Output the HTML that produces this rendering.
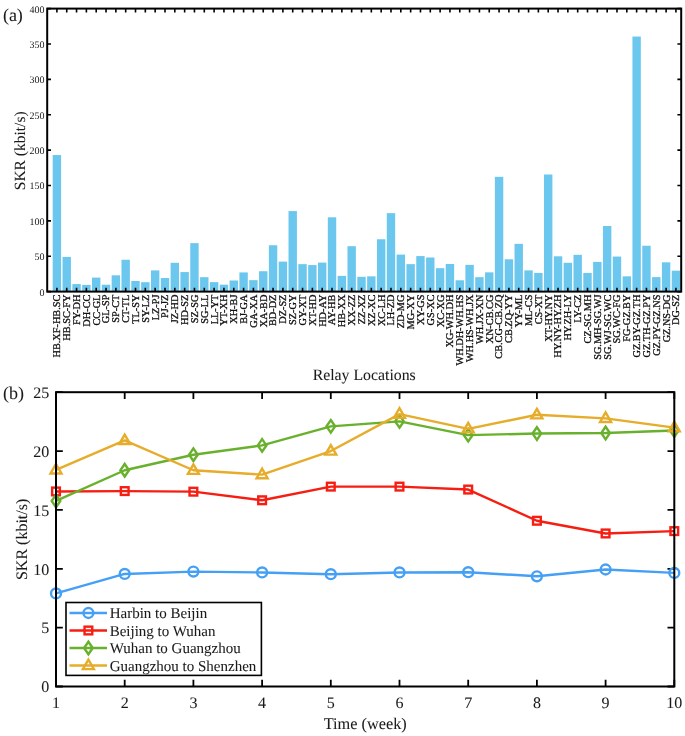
<!DOCTYPE html><html><head><meta charset="utf-8"><style>html,body{margin:0;padding:0;background:#fff;}svg{display:block;will-change:transform;}text{text-rendering:geometricPrecision;font-family:"Liberation Serif", serif;fill:#1a1a1a;stroke:#1a1a1a;stroke-width:0.06px;}text.sm{stroke-width:0.32px;fill:#111;stroke:#111;}text.yt{stroke-width:0px;fill:#222;}</style></head><body>
<svg width="685" height="736" viewBox="0 0 685 736">
<rect x="0" y="0" width="685" height="736" fill="#fff"/>
<rect x="52.70" y="155.05" width="8.40" height="136.55" fill="#6cc7ee"/>
<rect x="62.53" y="256.93" width="8.40" height="34.67" fill="#6cc7ee"/>
<rect x="72.35" y="284.10" width="8.40" height="7.50" fill="#6cc7ee"/>
<rect x="82.18" y="284.88" width="8.40" height="6.72" fill="#6cc7ee"/>
<rect x="92.00" y="277.59" width="8.40" height="14.01" fill="#6cc7ee"/>
<rect x="101.83" y="284.74" width="8.40" height="6.86" fill="#6cc7ee"/>
<rect x="111.66" y="275.33" width="8.40" height="16.27" fill="#6cc7ee"/>
<rect x="121.48" y="259.76" width="8.40" height="31.84" fill="#6cc7ee"/>
<rect x="131.31" y="280.99" width="8.40" height="10.61" fill="#6cc7ee"/>
<rect x="141.13" y="282.19" width="8.40" height="9.41" fill="#6cc7ee"/>
<rect x="150.96" y="270.38" width="8.40" height="21.23" fill="#6cc7ee"/>
<rect x="160.79" y="278.02" width="8.40" height="13.58" fill="#6cc7ee"/>
<rect x="170.61" y="262.80" width="8.40" height="28.80" fill="#6cc7ee"/>
<rect x="180.44" y="272.07" width="8.40" height="19.53" fill="#6cc7ee"/>
<rect x="190.26" y="243.14" width="8.40" height="48.46" fill="#6cc7ee"/>
<rect x="200.09" y="277.17" width="8.40" height="14.43" fill="#6cc7ee"/>
<rect x="209.92" y="282.12" width="8.40" height="9.48" fill="#6cc7ee"/>
<rect x="219.74" y="284.67" width="8.40" height="6.93" fill="#6cc7ee"/>
<rect x="229.57" y="280.49" width="8.40" height="11.11" fill="#6cc7ee"/>
<rect x="239.39" y="272.43" width="8.40" height="19.17" fill="#6cc7ee"/>
<rect x="249.22" y="280.14" width="8.40" height="11.46" fill="#6cc7ee"/>
<rect x="259.05" y="271.22" width="8.40" height="20.38" fill="#6cc7ee"/>
<rect x="268.87" y="245.26" width="8.40" height="46.34" fill="#6cc7ee"/>
<rect x="278.70" y="261.60" width="8.40" height="30.00" fill="#6cc7ee"/>
<rect x="288.52" y="211.09" width="8.40" height="80.51" fill="#6cc7ee"/>
<rect x="298.35" y="264.15" width="8.40" height="27.45" fill="#6cc7ee"/>
<rect x="308.18" y="265.07" width="8.40" height="26.53" fill="#6cc7ee"/>
<rect x="318.00" y="262.59" width="8.40" height="29.01" fill="#6cc7ee"/>
<rect x="327.83" y="217.31" width="8.40" height="74.29" fill="#6cc7ee"/>
<rect x="337.65" y="275.89" width="8.40" height="15.71" fill="#6cc7ee"/>
<rect x="347.48" y="246.18" width="8.40" height="45.42" fill="#6cc7ee"/>
<rect x="357.31" y="276.81" width="8.40" height="14.79" fill="#6cc7ee"/>
<rect x="367.13" y="276.32" width="8.40" height="15.28" fill="#6cc7ee"/>
<rect x="376.96" y="239.25" width="8.40" height="52.35" fill="#6cc7ee"/>
<rect x="386.78" y="213.14" width="8.40" height="78.46" fill="#6cc7ee"/>
<rect x="396.61" y="254.60" width="8.40" height="37.00" fill="#6cc7ee"/>
<rect x="406.44" y="264.15" width="8.40" height="27.45" fill="#6cc7ee"/>
<rect x="416.26" y="256.08" width="8.40" height="35.52" fill="#6cc7ee"/>
<rect x="426.09" y="257.50" width="8.40" height="34.10" fill="#6cc7ee"/>
<rect x="435.91" y="268.18" width="8.40" height="23.42" fill="#6cc7ee"/>
<rect x="445.74" y="264.01" width="8.40" height="27.59" fill="#6cc7ee"/>
<rect x="455.57" y="280.28" width="8.40" height="11.32" fill="#6cc7ee"/>
<rect x="465.39" y="264.86" width="8.40" height="26.74" fill="#6cc7ee"/>
<rect x="475.22" y="277.17" width="8.40" height="14.43" fill="#6cc7ee"/>
<rect x="485.04" y="272.36" width="8.40" height="19.24" fill="#6cc7ee"/>
<rect x="494.87" y="176.84" width="8.40" height="114.76" fill="#6cc7ee"/>
<rect x="504.70" y="259.27" width="8.40" height="32.33" fill="#6cc7ee"/>
<rect x="514.52" y="243.84" width="8.40" height="47.76" fill="#6cc7ee"/>
<rect x="524.35" y="270.38" width="8.40" height="21.23" fill="#6cc7ee"/>
<rect x="534.17" y="272.92" width="8.40" height="18.68" fill="#6cc7ee"/>
<rect x="544.00" y="174.51" width="8.40" height="117.09" fill="#6cc7ee"/>
<rect x="553.83" y="256.30" width="8.40" height="35.30" fill="#6cc7ee"/>
<rect x="563.65" y="262.80" width="8.40" height="28.80" fill="#6cc7ee"/>
<rect x="573.48" y="254.81" width="8.40" height="36.79" fill="#6cc7ee"/>
<rect x="583.30" y="272.92" width="8.40" height="18.68" fill="#6cc7ee"/>
<rect x="593.13" y="261.89" width="8.40" height="29.71" fill="#6cc7ee"/>
<rect x="602.96" y="226.01" width="8.40" height="65.59" fill="#6cc7ee"/>
<rect x="612.78" y="256.58" width="8.40" height="35.02" fill="#6cc7ee"/>
<rect x="622.61" y="276.32" width="8.40" height="15.28" fill="#6cc7ee"/>
<rect x="632.43" y="36.55" width="8.40" height="255.05" fill="#6cc7ee"/>
<rect x="642.26" y="245.75" width="8.40" height="45.85" fill="#6cc7ee"/>
<rect x="652.09" y="277.10" width="8.40" height="14.50" fill="#6cc7ee"/>
<rect x="661.91" y="262.31" width="8.40" height="29.29" fill="#6cc7ee"/>
<rect x="671.74" y="270.66" width="8.40" height="20.94" fill="#6cc7ee"/>
<path d="M56.90 291.60v-3.8M56.90 8.60v3.8M66.73 291.60v-3.8M66.73 8.60v3.8M76.55 291.60v-3.8M76.55 8.60v3.8M86.38 291.60v-3.8M86.38 8.60v3.8M96.20 291.60v-3.8M96.20 8.60v3.8M106.03 291.60v-3.8M106.03 8.60v3.8M115.86 291.60v-3.8M115.86 8.60v3.8M125.68 291.60v-3.8M125.68 8.60v3.8M135.51 291.60v-3.8M135.51 8.60v3.8M145.33 291.60v-3.8M145.33 8.60v3.8M155.16 291.60v-3.8M155.16 8.60v3.8M164.99 291.60v-3.8M164.99 8.60v3.8M174.81 291.60v-3.8M174.81 8.60v3.8M184.64 291.60v-3.8M184.64 8.60v3.8M194.46 291.60v-3.8M194.46 8.60v3.8M204.29 291.60v-3.8M204.29 8.60v3.8M214.12 291.60v-3.8M214.12 8.60v3.8M223.94 291.60v-3.8M223.94 8.60v3.8M233.77 291.60v-3.8M233.77 8.60v3.8M243.59 291.60v-3.8M243.59 8.60v3.8M253.42 291.60v-3.8M253.42 8.60v3.8M263.25 291.60v-3.8M263.25 8.60v3.8M273.07 291.60v-3.8M273.07 8.60v3.8M282.90 291.60v-3.8M282.90 8.60v3.8M292.72 291.60v-3.8M292.72 8.60v3.8M302.55 291.60v-3.8M302.55 8.60v3.8M312.38 291.60v-3.8M312.38 8.60v3.8M322.20 291.60v-3.8M322.20 8.60v3.8M332.03 291.60v-3.8M332.03 8.60v3.8M341.85 291.60v-3.8M341.85 8.60v3.8M351.68 291.60v-3.8M351.68 8.60v3.8M361.51 291.60v-3.8M361.51 8.60v3.8M371.33 291.60v-3.8M371.33 8.60v3.8M381.16 291.60v-3.8M381.16 8.60v3.8M390.98 291.60v-3.8M390.98 8.60v3.8M400.81 291.60v-3.8M400.81 8.60v3.8M410.64 291.60v-3.8M410.64 8.60v3.8M420.46 291.60v-3.8M420.46 8.60v3.8M430.29 291.60v-3.8M430.29 8.60v3.8M440.11 291.60v-3.8M440.11 8.60v3.8M449.94 291.60v-3.8M449.94 8.60v3.8M459.77 291.60v-3.8M459.77 8.60v3.8M469.59 291.60v-3.8M469.59 8.60v3.8M479.42 291.60v-3.8M479.42 8.60v3.8M489.24 291.60v-3.8M489.24 8.60v3.8M499.07 291.60v-3.8M499.07 8.60v3.8M508.90 291.60v-3.8M508.90 8.60v3.8M518.72 291.60v-3.8M518.72 8.60v3.8M528.55 291.60v-3.8M528.55 8.60v3.8M538.37 291.60v-3.8M538.37 8.60v3.8M548.20 291.60v-3.8M548.20 8.60v3.8M558.03 291.60v-3.8M558.03 8.60v3.8M567.85 291.60v-3.8M567.85 8.60v3.8M577.68 291.60v-3.8M577.68 8.60v3.8M587.50 291.60v-3.8M587.50 8.60v3.8M597.33 291.60v-3.8M597.33 8.60v3.8M607.16 291.60v-3.8M607.16 8.60v3.8M616.98 291.60v-3.8M616.98 8.60v3.8M626.81 291.60v-3.8M626.81 8.60v3.8M636.63 291.60v-3.8M636.63 8.60v3.8M646.46 291.60v-3.8M646.46 8.60v3.8M656.29 291.60v-3.8M656.29 8.60v3.8M666.11 291.60v-3.8M666.11 8.60v3.8M675.94 291.60v-3.8M675.94 8.60v3.8M47.20 291.60h3.8M681.20 291.60h-3.8M47.20 256.23h3.8M681.20 256.23h-3.8M47.20 220.85h3.8M681.20 220.85h-3.8M47.20 185.48h3.8M681.20 185.48h-3.8M47.20 150.10h3.8M681.20 150.10h-3.8M47.20 114.73h3.8M681.20 114.73h-3.8M47.20 79.35h3.8M681.20 79.35h-3.8M47.20 43.98h3.8M681.20 43.98h-3.8M47.20 8.60h3.8M681.20 8.60h-3.8" stroke="#000" stroke-width="1.6" fill="none"/>
<rect x="47.2" y="8.6" width="634.00" height="283.00" fill="none" stroke="#000" stroke-width="2"/>
<text x="44.5" y="295.50" font-size="10" text-anchor="end" class="yt">0</text>
<text x="44.5" y="260.12" font-size="10" text-anchor="end" class="yt">50</text>
<text x="44.5" y="224.75" font-size="10" text-anchor="end" class="yt">100</text>
<text x="44.5" y="189.38" font-size="10" text-anchor="end" class="yt">150</text>
<text x="44.5" y="154.00" font-size="10" text-anchor="end" class="yt">200</text>
<text x="44.5" y="118.63" font-size="10" text-anchor="end" class="yt">250</text>
<text x="44.5" y="83.25" font-size="10" text-anchor="end" class="yt">300</text>
<text x="44.5" y="47.88" font-size="10" text-anchor="end" class="yt">350</text>
<text x="44.5" y="12.50" font-size="10" text-anchor="end" class="yt">400</text>
<text transform="translate(60.30,294.6) rotate(-90)" font-size="10.3" text-anchor="end" class="sm">HB.XF-HB.SC</text>
<text transform="translate(70.13,294.6) rotate(-90)" font-size="10.3" text-anchor="end" class="sm">HB.SC-FY</text>
<text transform="translate(79.95,294.6) rotate(-90)" font-size="10.3" text-anchor="end" class="sm">FY-DH</text>
<text transform="translate(89.78,294.6) rotate(-90)" font-size="10.3" text-anchor="end" class="sm">DH-CC</text>
<text transform="translate(99.60,294.6) rotate(-90)" font-size="10.3" text-anchor="end" class="sm">CC-GL</text>
<text transform="translate(109.43,294.6) rotate(-90)" font-size="10.3" text-anchor="end" class="sm">GL-SP</text>
<text transform="translate(119.26,294.6) rotate(-90)" font-size="10.3" text-anchor="end" class="sm">SP-CT</text>
<text transform="translate(129.08,294.6) rotate(-90)" font-size="10.3" text-anchor="end" class="sm">CT-TL</text>
<text transform="translate(138.91,294.6) rotate(-90)" font-size="10.3" text-anchor="end" class="sm">TL-SY</text>
<text transform="translate(148.73,294.6) rotate(-90)" font-size="10.3" text-anchor="end" class="sm">SY-LZ</text>
<text transform="translate(158.56,294.6) rotate(-90)" font-size="10.3" text-anchor="end" class="sm">LZ-PJ</text>
<text transform="translate(168.39,294.6) rotate(-90)" font-size="10.3" text-anchor="end" class="sm">PJ-JZ</text>
<text transform="translate(178.21,294.6) rotate(-90)" font-size="10.3" text-anchor="end" class="sm">JZ-HD</text>
<text transform="translate(188.04,294.6) rotate(-90)" font-size="10.3" text-anchor="end" class="sm">HD-SZ</text>
<text transform="translate(197.86,294.6) rotate(-90)" font-size="10.3" text-anchor="end" class="sm">SZ-SG</text>
<text transform="translate(207.69,294.6) rotate(-90)" font-size="10.3" text-anchor="end" class="sm">SG-LL</text>
<text transform="translate(217.52,294.6) rotate(-90)" font-size="10.3" text-anchor="end" class="sm">LL-YT</text>
<text transform="translate(227.34,294.6) rotate(-90)" font-size="10.3" text-anchor="end" class="sm">YT-XH</text>
<text transform="translate(237.17,294.6) rotate(-90)" font-size="10.3" text-anchor="end" class="sm">XH-BJ</text>
<text transform="translate(246.99,294.6) rotate(-90)" font-size="10.3" text-anchor="end" class="sm">BJ-GA</text>
<text transform="translate(256.82,294.6) rotate(-90)" font-size="10.3" text-anchor="end" class="sm">GA-XA</text>
<text transform="translate(266.65,294.6) rotate(-90)" font-size="10.3" text-anchor="end" class="sm">XA-BD</text>
<text transform="translate(276.47,294.6) rotate(-90)" font-size="10.3" text-anchor="end" class="sm">BD-DZ</text>
<text transform="translate(286.30,294.6) rotate(-90)" font-size="10.3" text-anchor="end" class="sm">DZ-SZ</text>
<text transform="translate(296.12,294.6) rotate(-90)" font-size="10.3" text-anchor="end" class="sm">SZ-GY</text>
<text transform="translate(305.95,294.6) rotate(-90)" font-size="10.3" text-anchor="end" class="sm">GY-XT</text>
<text transform="translate(315.78,294.6) rotate(-90)" font-size="10.3" text-anchor="end" class="sm">XT-HD</text>
<text transform="translate(325.60,294.6) rotate(-90)" font-size="10.3" text-anchor="end" class="sm">HD-AY</text>
<text transform="translate(335.43,294.6) rotate(-90)" font-size="10.3" text-anchor="end" class="sm">AY-HB</text>
<text transform="translate(345.25,294.6) rotate(-90)" font-size="10.3" text-anchor="end" class="sm">HB-XX</text>
<text transform="translate(355.08,294.6) rotate(-90)" font-size="10.3" text-anchor="end" class="sm">XX-ZZ</text>
<text transform="translate(364.91,294.6) rotate(-90)" font-size="10.3" text-anchor="end" class="sm">ZZ-XZ</text>
<text transform="translate(374.73,294.6) rotate(-90)" font-size="10.3" text-anchor="end" class="sm">XZ-XC</text>
<text transform="translate(384.56,294.6) rotate(-90)" font-size="10.3" text-anchor="end" class="sm">XC-LH</text>
<text transform="translate(394.38,294.6) rotate(-90)" font-size="10.3" text-anchor="end" class="sm">LH-ZD</text>
<text transform="translate(404.21,294.6) rotate(-90)" font-size="10.3" text-anchor="end" class="sm">ZD-MG</text>
<text transform="translate(414.04,294.6) rotate(-90)" font-size="10.3" text-anchor="end" class="sm">MG-XY</text>
<text transform="translate(423.86,294.6) rotate(-90)" font-size="10.3" text-anchor="end" class="sm">XY-GS</text>
<text transform="translate(433.69,294.6) rotate(-90)" font-size="10.3" text-anchor="end" class="sm">GS-XC</text>
<text transform="translate(443.51,294.6) rotate(-90)" font-size="10.3" text-anchor="end" class="sm">XC-XG</text>
<text transform="translate(453.34,294.6) rotate(-90)" font-size="10.3" text-anchor="end" class="sm">XG-WH.DH</text>
<text transform="translate(463.17,294.6) rotate(-90)" font-size="10.3" text-anchor="end" class="sm">WH.DH-WH.HS</text>
<text transform="translate(472.99,294.6) rotate(-90)" font-size="10.3" text-anchor="end" class="sm">WH.HS-WH.JX</text>
<text transform="translate(482.82,294.6) rotate(-90)" font-size="10.3" text-anchor="end" class="sm">WH.JX-XN</text>
<text transform="translate(492.64,294.6) rotate(-90)" font-size="10.3" text-anchor="end" class="sm">XN-CB.CG</text>
<text transform="translate(502.47,294.6) rotate(-90)" font-size="10.3" text-anchor="end" class="sm">CB.CG-CB.ZQ</text>
<text transform="translate(512.30,294.6) rotate(-90)" font-size="10.3" text-anchor="end" class="sm">CB.ZQ-YY</text>
<text transform="translate(522.12,294.6) rotate(-90)" font-size="10.3" text-anchor="end" class="sm">YY-ML</text>
<text transform="translate(531.95,294.6) rotate(-90)" font-size="10.3" text-anchor="end" class="sm">ML-CS</text>
<text transform="translate(541.77,294.6) rotate(-90)" font-size="10.3" text-anchor="end" class="sm">CS-XT</text>
<text transform="translate(551.60,294.6) rotate(-90)" font-size="10.3" text-anchor="end" class="sm">XT-HY.NY</text>
<text transform="translate(561.43,294.6) rotate(-90)" font-size="10.3" text-anchor="end" class="sm">HY.NY-HY.ZH</text>
<text transform="translate(571.25,294.6) rotate(-90)" font-size="10.3" text-anchor="end" class="sm">HY.ZH-LY</text>
<text transform="translate(581.08,294.6) rotate(-90)" font-size="10.3" text-anchor="end" class="sm">LY-CZ</text>
<text transform="translate(590.90,294.6) rotate(-90)" font-size="10.3" text-anchor="end" class="sm">CZ-SG.MH</text>
<text transform="translate(600.73,294.6) rotate(-90)" font-size="10.3" text-anchor="end" class="sm">SG.MH-SG.WJ</text>
<text transform="translate(610.56,294.6) rotate(-90)" font-size="10.3" text-anchor="end" class="sm">SG.WJ-SG.WC</text>
<text transform="translate(620.38,294.6) rotate(-90)" font-size="10.3" text-anchor="end" class="sm">SG.WC-FG</text>
<text transform="translate(630.21,294.6) rotate(-90)" font-size="10.3" text-anchor="end" class="sm">FG-GZ.BY</text>
<text transform="translate(640.03,294.6) rotate(-90)" font-size="10.3" text-anchor="end" class="sm">GZ.BY-GZ.TH</text>
<text transform="translate(649.86,294.6) rotate(-90)" font-size="10.3" text-anchor="end" class="sm">GZ.TH-GZ.PY</text>
<text transform="translate(659.69,294.6) rotate(-90)" font-size="10.3" text-anchor="end" class="sm">GZ.PY-GZ.NS</text>
<text transform="translate(669.51,294.6) rotate(-90)" font-size="10.3" text-anchor="end" class="sm">GZ.NS-DG</text>
<text transform="translate(679.34,294.6) rotate(-90)" font-size="10.3" text-anchor="end" class="sm">DG-SZ</text>
<text x="364.2" y="379.5" font-size="15.8" text-anchor="middle">Relay Locations</text>
<text transform="translate(25.4,150.8) rotate(-90)" font-size="15.5" text-anchor="middle">SKR (kbit/s)</text>
<text x="2.9" y="20.8" font-size="18">(a)</text>
<path d="M56.00 686.5v-6.8M56.00 392.2v6.8M124.70 686.5v-6.8M124.70 392.2v6.8M193.40 686.5v-6.8M193.40 392.2v6.8M262.10 686.5v-6.8M262.10 392.2v6.8M330.80 686.5v-6.8M330.80 392.2v6.8M399.50 686.5v-6.8M399.50 392.2v6.8M468.20 686.5v-6.8M468.20 392.2v6.8M536.90 686.5v-6.8M536.90 392.2v6.8M605.60 686.5v-6.8M605.60 392.2v6.8M674.30 686.5v-6.8M674.30 392.2v6.8M56.0 686.50h6.8M674.3 686.50h-6.8M56.0 627.64h6.8M674.3 627.64h-6.8M56.0 568.78h6.8M674.3 568.78h-6.8M56.0 509.92h6.8M674.3 509.92h-6.8M56.0 451.06h6.8M674.3 451.06h-6.8M56.0 392.20h6.8M674.3 392.20h-6.8" stroke="#000" stroke-width="1.8" fill="none"/>
<defs><clipPath id="cb"><rect x="48.0" y="384.2" width="634.3" height="310.3"/></clipPath></defs>
<polyline points="56.00,593.38 124.70,573.96 193.40,571.61 262.10,572.43 330.80,574.20 399.50,572.43 468.20,572.19 536.90,576.31 605.60,569.49 674.30,572.90" fill="none" stroke="#45a0f5" stroke-width="2.4" stroke-linejoin="round"/>
<circle cx="56.00" cy="593.38" r="4.95" fill="none" stroke="#45a0f5" stroke-width="2.4"/>
<circle cx="124.70" cy="573.96" r="4.95" fill="none" stroke="#45a0f5" stroke-width="2.4"/>
<circle cx="193.40" cy="571.61" r="4.95" fill="none" stroke="#45a0f5" stroke-width="2.4"/>
<circle cx="262.10" cy="572.43" r="4.95" fill="none" stroke="#45a0f5" stroke-width="2.4"/>
<circle cx="330.80" cy="574.20" r="4.95" fill="none" stroke="#45a0f5" stroke-width="2.4"/>
<circle cx="399.50" cy="572.43" r="4.95" fill="none" stroke="#45a0f5" stroke-width="2.4"/>
<circle cx="468.20" cy="572.19" r="4.95" fill="none" stroke="#45a0f5" stroke-width="2.4"/>
<circle cx="536.90" cy="576.31" r="4.95" fill="none" stroke="#45a0f5" stroke-width="2.4"/>
<circle cx="605.60" cy="569.49" r="4.95" fill="none" stroke="#45a0f5" stroke-width="2.4"/>
<circle cx="674.30" cy="572.90" r="4.95" fill="none" stroke="#45a0f5" stroke-width="2.4"/>
<polyline points="56.00,491.44 124.70,491.08 193.40,491.67 262.10,500.27 330.80,486.61 399.50,486.61 468.20,489.55 536.90,520.75 605.60,533.46 674.30,531.11" fill="none" stroke="#f61e12" stroke-width="2.4" stroke-linejoin="round"/>
<rect x="52.15" y="487.59" width="7.7" height="7.7" fill="none" stroke="#f61e12" stroke-width="2.4"/>
<rect x="120.85" y="487.23" width="7.7" height="7.7" fill="none" stroke="#f61e12" stroke-width="2.4"/>
<rect x="189.55" y="487.82" width="7.7" height="7.7" fill="none" stroke="#f61e12" stroke-width="2.4"/>
<rect x="258.25" y="496.42" width="7.7" height="7.7" fill="none" stroke="#f61e12" stroke-width="2.4"/>
<rect x="326.95" y="482.76" width="7.7" height="7.7" fill="none" stroke="#f61e12" stroke-width="2.4"/>
<rect x="395.65" y="482.76" width="7.7" height="7.7" fill="none" stroke="#f61e12" stroke-width="2.4"/>
<rect x="464.35" y="485.70" width="7.7" height="7.7" fill="none" stroke="#f61e12" stroke-width="2.4"/>
<rect x="533.05" y="516.90" width="7.7" height="7.7" fill="none" stroke="#f61e12" stroke-width="2.4"/>
<rect x="601.75" y="529.61" width="7.7" height="7.7" fill="none" stroke="#f61e12" stroke-width="2.4"/>
<rect x="670.45" y="527.26" width="7.7" height="7.7" fill="none" stroke="#f61e12" stroke-width="2.4"/>
<polyline points="56.00,500.97 124.70,470.25 193.40,454.71 262.10,445.41 330.80,426.34 399.50,421.39 468.20,435.17 536.90,433.52 605.60,433.05 674.30,430.46" fill="none" stroke="#69b12c" stroke-width="2.4" stroke-linejoin="round"/>
<path d="M56.00 494.67L60.30 500.97L56.00 507.27L51.70 500.97Z" fill="none" stroke="#69b12c" stroke-width="2.4" stroke-linejoin="miter"/>
<path d="M124.70 463.95L129.00 470.25L124.70 476.55L120.40 470.25Z" fill="none" stroke="#69b12c" stroke-width="2.4" stroke-linejoin="miter"/>
<path d="M193.40 448.41L197.70 454.71L193.40 461.01L189.10 454.71Z" fill="none" stroke="#69b12c" stroke-width="2.4" stroke-linejoin="miter"/>
<path d="M262.10 439.11L266.40 445.41L262.10 451.71L257.80 445.41Z" fill="none" stroke="#69b12c" stroke-width="2.4" stroke-linejoin="miter"/>
<path d="M330.80 420.04L335.10 426.34L330.80 432.64L326.50 426.34Z" fill="none" stroke="#69b12c" stroke-width="2.4" stroke-linejoin="miter"/>
<path d="M399.50 415.09L403.80 421.39L399.50 427.69L395.20 421.39Z" fill="none" stroke="#69b12c" stroke-width="2.4" stroke-linejoin="miter"/>
<path d="M468.20 428.87L472.50 435.17L468.20 441.47L463.90 435.17Z" fill="none" stroke="#69b12c" stroke-width="2.4" stroke-linejoin="miter"/>
<path d="M536.90 427.22L541.20 433.52L536.90 439.82L532.60 433.52Z" fill="none" stroke="#69b12c" stroke-width="2.4" stroke-linejoin="miter"/>
<path d="M605.60 426.75L609.90 433.05L605.60 439.35L601.30 433.05Z" fill="none" stroke="#69b12c" stroke-width="2.4" stroke-linejoin="miter"/>
<path d="M674.30 424.16L678.60 430.46L674.30 436.76L670.00 430.46Z" fill="none" stroke="#69b12c" stroke-width="2.4" stroke-linejoin="miter"/>
<polyline points="56.00,469.90 124.70,440.47 193.40,470.25 262.10,474.60 330.80,451.06 399.50,414.10 468.20,428.81 536.90,414.80 605.60,418.33 674.30,427.63" fill="none" stroke="#e6ac2a" stroke-width="2.4" stroke-linejoin="round"/>
<path d="M56.00 464.00L61.50 473.50L50.50 473.50Z" fill="none" stroke="#e6ac2a" stroke-width="2.4" stroke-linejoin="miter"/>
<path d="M124.70 434.57L130.20 444.07L119.20 444.07Z" fill="none" stroke="#e6ac2a" stroke-width="2.4" stroke-linejoin="miter"/>
<path d="M193.40 464.35L198.90 473.85L187.90 473.85Z" fill="none" stroke="#e6ac2a" stroke-width="2.4" stroke-linejoin="miter"/>
<path d="M262.10 468.70L267.60 478.20L256.60 478.20Z" fill="none" stroke="#e6ac2a" stroke-width="2.4" stroke-linejoin="miter"/>
<path d="M330.80 445.16L336.30 454.66L325.30 454.66Z" fill="none" stroke="#e6ac2a" stroke-width="2.4" stroke-linejoin="miter"/>
<path d="M399.50 408.20L405.00 417.70L394.00 417.70Z" fill="none" stroke="#e6ac2a" stroke-width="2.4" stroke-linejoin="miter"/>
<path d="M468.20 422.91L473.70 432.41L462.70 432.41Z" fill="none" stroke="#e6ac2a" stroke-width="2.4" stroke-linejoin="miter"/>
<path d="M536.90 408.90L542.40 418.40L531.40 418.40Z" fill="none" stroke="#e6ac2a" stroke-width="2.4" stroke-linejoin="miter"/>
<path d="M605.60 412.43L611.10 421.93L600.10 421.93Z" fill="none" stroke="#e6ac2a" stroke-width="2.4" stroke-linejoin="miter"/>
<path d="M674.30 421.73L679.80 431.23L668.80 431.23Z" fill="none" stroke="#e6ac2a" stroke-width="2.4" stroke-linejoin="miter"/>
<rect x="56.0" y="392.2" width="618.30" height="294.30" fill="none" stroke="#000" stroke-width="2"/>
<text x="49.2" y="692.30" font-size="16" text-anchor="end">0</text>
<text x="49.2" y="633.44" font-size="16" text-anchor="end">5</text>
<text x="49.2" y="574.58" font-size="16" text-anchor="end">10</text>
<text x="49.2" y="515.72" font-size="16" text-anchor="end">15</text>
<text x="49.2" y="456.86" font-size="16" text-anchor="end">20</text>
<text x="49.2" y="398.00" font-size="16" text-anchor="end">25</text>
<text x="56.00" y="707.5" font-size="16" text-anchor="middle">1</text>
<text x="124.70" y="707.5" font-size="16" text-anchor="middle">2</text>
<text x="193.40" y="707.5" font-size="16" text-anchor="middle">3</text>
<text x="262.10" y="707.5" font-size="16" text-anchor="middle">4</text>
<text x="330.80" y="707.5" font-size="16" text-anchor="middle">5</text>
<text x="399.50" y="707.5" font-size="16" text-anchor="middle">6</text>
<text x="468.20" y="707.5" font-size="16" text-anchor="middle">7</text>
<text x="536.90" y="707.5" font-size="16" text-anchor="middle">8</text>
<text x="605.60" y="707.5" font-size="16" text-anchor="middle">9</text>
<text x="674.30" y="707.5" font-size="16" text-anchor="middle">10</text>
<text x="365.2" y="729" font-size="16.3" text-anchor="middle">Time (week)</text>
<text transform="translate(26.6,539.4) rotate(-90)" font-size="16" text-anchor="middle">SKR (kbit/s)</text>
<text x="3.1" y="399.0" font-size="18">(b)</text>
<rect x="66.0" y="602.5" width="195.40" height="72.90" fill="#fff" stroke="#000" stroke-width="1.6"/>
<line x1="69.5" y1="613.00" x2="107" y2="613.00" stroke="#45a0f5" stroke-width="2.4"/>
<circle cx="88.40" cy="613.00" r="4.95" fill="none" stroke="#45a0f5" stroke-width="2.4"/>
<text x="109.7" y="618.30" font-size="15">Harbin to Beijin</text>
<line x1="69.5" y1="630.50" x2="107" y2="630.50" stroke="#f61e12" stroke-width="2.4"/>
<rect x="84.55" y="626.65" width="7.7" height="7.7" fill="none" stroke="#f61e12" stroke-width="2.4"/>
<text x="109.7" y="635.80" font-size="15">Beijing to Wuhan</text>
<line x1="69.5" y1="648.00" x2="107" y2="648.00" stroke="#69b12c" stroke-width="2.4"/>
<path d="M88.40 641.70L92.70 648.00L88.40 654.30L84.10 648.00Z" fill="none" stroke="#69b12c" stroke-width="2.4" stroke-linejoin="miter"/>
<text x="109.7" y="653.30" font-size="15">Wuhan to Guangzhou</text>
<line x1="69.5" y1="665.50" x2="107" y2="665.50" stroke="#e6ac2a" stroke-width="2.4"/>
<path d="M88.40 659.60L93.90 669.10L82.90 669.10Z" fill="none" stroke="#e6ac2a" stroke-width="2.4" stroke-linejoin="miter"/>
<text x="109.7" y="670.80" font-size="15">Guangzhou to Shenzhen</text>
</svg></body></html>
